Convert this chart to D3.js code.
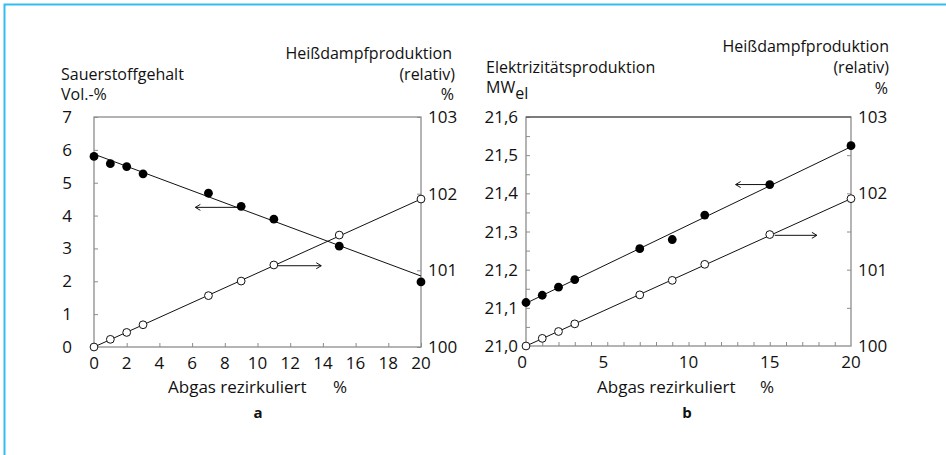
<!DOCTYPE html>
<html>
  <head>
    <meta charset="utf-8">
    <title>Abgasrezirkulation</title>
    <script src="https://d3js.org/d3.v7.min.js"></script>
    <style>
      body { margin: 0; background: #fff; }
      text { font-family: "Open Sans", "Noto Sans", sans-serif; fill: #111; }
      .box { fill: none; stroke: #8c8c8c; stroke-width: 1.3; }
      .tick line { stroke: #8c8c8c; }
      .fit { fill: none; stroke: #111; stroke-width: 1; }
      .arrow { stroke: #111; stroke-width: 1; fill: none; }
    </style>
  </head>
  <body>
    <div id="chart"></div>
    <script>

      // recirculated flue gas, %
      var recirc = [0, 1, 2, 3, 7, 9, 11, 15, 20];
      // panel a: oxygen content, Vol.-%
      var oxygen = [5.8, 5.58, 5.49, 5.27, 4.68, 4.28, 3.89, 3.07, 1.98];
      var oxygenFit = [5.87, 2.16];
      // panel b: electricity production, MWel
      var power = [21.114, 21.133, 21.154, 21.174, 21.255, 21.279, 21.343, 21.423, 21.525];
      var powerFit = [21.112, 21.522];
      // both panels: hot steam production (relative), %
      var steam = [100.0, 100.1, 100.19, 100.29, 100.67, 100.86, 101.07, 101.46, 101.93];
      var steamFit = [100.0, 101.93];

      var xTicksA = d3.range(0, 21, 2);
      var xTicksB = [0, 5, 10, 15, 20];
      var yTicksA = d3.range(0, 8, 1);
      var yTicksB = [21.0, 21.1, 21.2, 21.3, 21.4, 21.5, 21.6];
      var steamTicks = [100, 101, 102, 103];

      var width = 946, height = 455;

      var svg = d3.select("#chart").append("svg")
        .attr("width", width)
        .attr("height", height);

      // light blue frame
      svg.append("path")
        .attr("d", "M4.5,455 V4.5 H946")
        .attr("fill", "none")
        .attr("stroke", "#33bdef")
        .attr("stroke-width", 2);

      function panel(opt) {
        var g = svg.append("g");
        var x = d3.scaleLinear().domain([0, 20]).range([opt.left, opt.right]);
        var yL = d3.scaleLinear().domain(opt.leftDomain).range([opt.bottom, opt.top]);
        var yR = d3.scaleLinear().domain([100, 103]).range([opt.bottom, opt.top]);

        // inner ticks
        g.append("g")
          .attr("transform", "translate(0," + opt.bottom + ")")
          .call(d3.axisTop(x).tickValues(opt.xMinor).tickSize(4).tickFormat(""))
          .call((a) => a.select(".domain").remove());
        g.append("g")
          .attr("transform", "translate(" + opt.left + ",0)")
          .call(d3.axisRight(yL).tickValues(opt.yMinor).tickSize(4).tickFormat(""))
          .call((a) => a.select(".domain").remove());
        g.append("g")
          .attr("transform", "translate(" + opt.right + ",0)")
          .call(d3.axisLeft(yR).tickValues(opt.rMinor).tickSize(4).tickFormat(""))
          .call((a) => a.select(".domain").remove());

        g.append("rect")
          .attr("class", "box")
          .attr("x", opt.left).attr("y", opt.top)
          .attr("width", opt.right - opt.left)
          .attr("height", opt.bottom - opt.top);
        if (opt.darkTop) {
          g.append("line")
            .attr("x1", opt.left).attr("x2", opt.right)
            .attr("y1", opt.top).attr("y2", opt.top)
            .attr("stroke", "#444").attr("stroke-width", 1);
        }

        // tick labels
        g.selectAll(".xl").data(opt.xTicks).enter().append("text")
          .attr("x", (d) => x(d) + (d < 10 ? opt.xShift : 0))
          .attr("y", opt.bottom + 22)
          .attr("text-anchor", "middle")
          .style("font-size", "17px")
          .text((d) => d);
        g.selectAll(".yl").data(opt.yTicks).enter().append("text")
          .attr("x", opt.yLabelX)
          .attr("y", (d) => yL(d) + 6)
          .attr("text-anchor", "end")
          .style("font-size", "17px")
          .text(opt.yFormat);
        g.selectAll(".rl").data(steamTicks).enter().append("text")
          .attr("x", opt.right + 7)
          .attr("y", (d) => yR(d) + 6)
          .style("font-size", "17px")
          .text((d) => d);

        // fitted lines
        g.append("line").attr("class", "fit")
          .attr("x1", x(0)).attr("y1", yL(opt.fit[0]))
          .attr("x2", x(20)).attr("y2", yL(opt.fit[1]));
        g.append("line").attr("class", "fit")
          .attr("x1", x(0)).attr("y1", yR(steamFit[0]))
          .attr("x2", x(20)).attr("y2", yR(steamFit[1]));

        // arrows
        opt.arrows.forEach((a) => {
          var y = a.axis == "L" ? yL(a.y) : yR(a.y);
          var x1 = x(a.from), x2 = x(a.to), dir = x2 > x1 ? 1 : -1;
          g.append("line").attr("class", "arrow")
            .attr("x1", x1).attr("y1", y).attr("x2", x2).attr("y2", y);
          g.append("path").attr("class", "arrow")
            .attr("d", "M" + (x2 - dir * 5) + "," + (y - 3) + " L" + x2 + "," + y +
              " L" + (x2 - dir * 5) + "," + (y + 3));
        });

        // points
        g.selectAll(".open").data(recirc).enter().append("circle")
          .attr("cx", (d) => x(d))
          .attr("cy", (d, i) => yR(steam[i]))
          .attr("r", 3.9)
          .attr("fill", "#fff")
          .attr("stroke", "#111")
          .attr("stroke-width", 1);
        g.selectAll(".full").data(recirc).enter().append("circle")
          .attr("cx", (d) => x(d))
          .attr("cy", (d, i) => yL(opt.values[i]))
          .attr("r", 4.4)
          .attr("fill", "#000");

        // titles
        opt.titles.forEach((t) => {
          var tx = g.append("text")
            .attr("x", t.x).attr("y", t.y)
            .attr("text-anchor", t.anchor || "start")
            .style("font-size", t.size || "16px")
            .style("font-weight", t.bold ? "bold" : null)
            .text(t.text);
          if (t.sub) {
            tx.append("tspan").attr("dy", 6).text(t.sub);
          }
        });
      }

      panel({
        left: 94, right: 421, top: 117, bottom: 347,
        leftDomain: [0, 7],
        xTicks: xTicksA, xMinor: xTicksA, xShift: 0,
        yTicks: yTicksA, yMinor: yTicksA, rMinor: steamTicks,
        yLabelX: 72, yFormat: (d) => d,
        values: oxygen, fit: oxygenFit,
        arrows: [
          { axis: "L", y: 4.25, from: 9, to: 6.2 },
          { axis: "R", y: 101.06, from: 11, to: 13.9 }
        ],
        titles: [
          { text: "Sauerstoffgehalt", x: 61, y: 80 },
          { text: "Vol.-%", x: 61, y: 100 },
          { text: "Heißdampfproduktion", x: 452, y: 59 },
          { text: "(relativ)", x: 455, y: 80 },
          { text: "%", x: 454, y: 100 },
          { text: "Abgas rezirkuliert", x: 168, y: 393, size: "17px" },
          { text: "%", x: 333, y: 393, size: "17px" },
          { text: "a", x: 258, y: 418, bold: true, size: "15px", anchor: "middle" }
        ].map((t) => (t.x > 400 ? Object.assign(t, { anchor: "end" }) : t))
      });

      panel({
        left: 526, right: 851, top: 117, bottom: 346,
        leftDomain: [21.0, 21.6],
        xTicks: xTicksB, xMinor: d3.range(1, 20), xShift: -4,
        yTicks: yTicksB, yMinor: d3.range(21.05, 21.6, 0.05), rMinor: [100.5, 101, 101.5, 102, 102.5],
        yLabelX: 518, yFormat: (d) => d3.format(".1f")(d).replace(".", ","),
        values: power, fit: powerFit,
        arrows: [
          { axis: "L", y: 21.423, from: 14.8, to: 12.9 },
          { axis: "R", y: 101.45, from: 15.3, to: 17.9 }
        ],
        darkTop: true,
        titles: [
          { text: "Elektrizitätsproduktion", x: 486, y: 73 },
          { text: "MW", x: 486, y: 93, sub: "el" },
          { text: "Heißdampfproduktion", x: 889, y: 52, anchor: "end" },
          { text: "(relativ)", x: 889, y: 73, anchor: "end" },
          { text: "%", x: 888, y: 94, anchor: "end" },
          { text: "Abgas rezirkuliert", x: 597, y: 393, size: "17px" },
          { text: "%", x: 760, y: 393, size: "17px" },
          { text: "b", x: 687, y: 418, bold: true, size: "15px", anchor: "middle" }
        ]
      });

    </script>
  </body>
</html>
